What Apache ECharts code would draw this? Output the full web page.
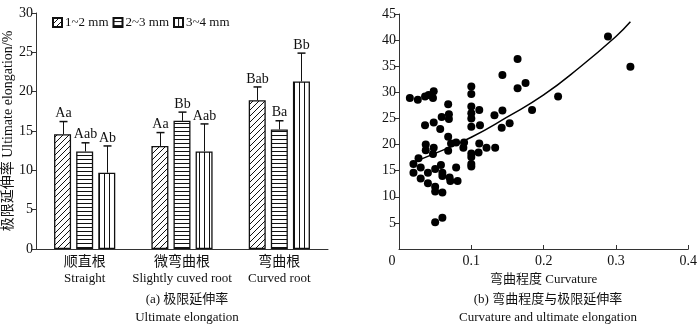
<!DOCTYPE html>
<html>
<head>
<meta charset="utf-8">
<script src="https://cdn.jsdelivr.net/npm/echarts@6/dist/echarts.min.js"></script>
<style>html,body{margin:0;padding:0;background:#fff}#main{width:700px;height:325px}</style>
</head>
<body>
<div id="main"></div>
<script>
// (a) bars
const categoriesCn = ['顺直根', '微弯曲根', '弯曲根'];
const categoriesEn = ['Straight', 'Slightly cuved root', 'Curved root'];
const sizeNames = ['1~2 mm', '2~3 mm', '3~4 mm'];
const mean12 = [14.6, 13.1, 18.9];
const mean23 = [12.4, 16.3, 15.2];
const mean34 = [9.7, 12.4, 21.3];
const sd12 = [1.6, 1.7, 1.7];
const sd23 = [1.1, 1.1, 1.1];
const sd34 = [3.4, 3.5, 3.6];
const letters12 = ['Aa', 'Aa', 'Bab'];
const letters23 = ['Aab', 'Bb', 'Ba'];
const letters34 = ['Ab', 'Aab', 'Bb'];

// (b) scatter
const curvature = [
    0.015, 0.02, 0.02, 0.026, 0.027, 0.03, 0.03, 0.036, 0.036, 0.037, 0.037, 0.04, 0.04,
    0.041, 0.048, 0.047, 0.048, 0.048, 0.047, 0.05, 0.05, 0.05, 0.05,
    0.059, 0.057, 0.058, 0.06, 0.06, 0.06, 0.06,
    0.068, 0.069, 0.069, 0.068, 0.072, 0.068, 0.07, 0.071,
    0.079, 0.079, 0.081, 0.09, 0.089,
    0.1, 0.1, 0.1, 0.1, 0.1, 0.1, 0.1, 0.1, 0.1, 0.1,
    0.111, 0.112, 0.111, 0.11, 0.121, 0.133, 0.132,
    0.143, 0.143, 0.142, 0.153, 0.164, 0.164, 0.175, 0.184,
    0.22, 0.289, 0.32
];
const elongation = [
    28.9, 16.3, 14.6, 28.6, 17.4, 15.6, 13.5, 29.2, 23.7, 20.0, 18.9, 14.6, 12.6,
    29.5, 30.2, 28.9, 24.2, 19.4, 18.2, 15.3, 11.9, 11.0, 5.1,
    25.3, 23.0, 16.1, 14.6, 14.0, 10.8, 6.0,
    27.7, 25.8, 24.9, 21.5, 20.2, 18.8, 13.7, 13.0,
    20.4, 15.6, 13.0, 20.4, 19.4,
    31.1, 29.7, 27.3, 26.0, 25.0, 23.4, 18.3, 17.6, 16.3, 15.8,
    26.6, 23.7, 20.2, 18.5, 19.4, 19.4, 25.6,
    26.5, 33.3, 23.2, 24.1, 36.4, 30.8, 31.8, 26.6,
    29.2, 40.7, 34.9
];
// trend curve
const curveX = [0.015, 0.05, 0.1, 0.15, 0.2, 0.25, 0.3, 0.32];
const curveY = [16.4, 18.3, 21.4, 25.3, 29.5, 34.8, 40.7, 43.5];

const font = '"Liberation Serif", "Noto Sans CJK SC", serif';
const ink = '#111';

function makePattern(kind) {
    const c = document.createElement('canvas');
    const s = kind === 'diag' ? 6 : (kind === 'hor' ? 4 : 5);
    c.width = s; c.height = s;
    const ctx = c.getContext('2d');
    ctx.fillStyle = '#fff';
    ctx.fillRect(0, 0, s, s);
    ctx.strokeStyle = ink;
    ctx.fillStyle = ink;
    ctx.lineWidth = 1;
    if (kind === 'diag') {
        ctx.beginPath();
        ctx.moveTo(-1, s + 1); ctx.lineTo(s + 1, -1);
        ctx.moveTo(-1, 1); ctx.lineTo(1, -1);
        ctx.moveTo(s - 1, s + 1); ctx.lineTo(s + 1, s - 1);
        ctx.stroke();
    } else if (kind === 'hor') {
        ctx.fillRect(0, s - 1, s, 1);
    } else {
        ctx.fillRect(s - 1, 0, 1, s);
    }
    return { image: c, repeat: 'repeat' };
}

const patterns = [makePattern('diag'), makePattern('hor'), makePattern('vert')];
const means = [mean12, mean23, mean34];
const sds = [sd12, sd23, sd34];
const letters = [letters12, letters23, letters34];
const offsets = [-22, 0, 22];

const series = [];
sizeNames.forEach((name, k) => {
    series.push({
        name: name,
        type: 'bar',
        xAxisIndex: 0,
        yAxisIndex: 0,
        barWidth: 17,
        barGap: '30%',
        data: means[k],
        itemStyle: { color: patterns[k], borderColor: ink, borderWidth: 1.3 }
    });
});
sizeNames.forEach((name, k) => {
    series.push({
        type: 'custom',
        xAxisIndex: 0,
        yAxisIndex: 0,
        z: 5,
        encode: { x: 0, y: 1 },
        data: means[k].map((v, i) => [i, v, sds[k][i]]),
        renderItem: function (params, api) {
            const cat = api.value(0);
            const base = api.coord([cat, api.value(1)]);
            const top = api.coord([cat, api.value(1) + api.value(2)]);
            const x = Math.round(base[0] + offsets[k]) + 0.5;
            return {
                type: 'group',
                children: [
                    { type: 'line', shape: { x1: x, y1: base[1], x2: x, y2: top[1] }, style: { stroke: ink, lineWidth: 1 } },
                    { type: 'line', shape: { x1: x - 4, y1: top[1], x2: x + 4, y2: top[1] }, style: { stroke: ink, lineWidth: 1.5 } },
                    { type: 'text', x: x, y: top[1] - 1, style: { text: letters[k][params.dataIndex], align: 'center', verticalAlign: 'bottom', font: '14px ' + font, fill: ink } }
                ]
            };
        }
    });
});
series.push({
    type: 'scatter',
    xAxisIndex: 1,
    yAxisIndex: 1,
    symbolSize: 8,
    itemStyle: { color: '#000', opacity: 1 },
    data: curvature.map((x, i) => [x, elongation[i]])
});
series.push({
    type: 'line',
    xAxisIndex: 1,
    yAxisIndex: 1,
    smooth: true,
    showSymbol: false,
    lineStyle: { color: '#000', width: 1.5 },
    data: curveX.map((x, i) => [x, curveY[i]])
});

const chart = echarts.init(document.getElementById('main'));
const axisLine = { show: true, lineStyle: { color: '#333', width: 1 } };

chart.setOption({
    animation: false,
    textStyle: { fontFamily: font, color: ink },
    title: [
        { text: '(a) 极限延伸率', left: 182, top: 288, textAlign: 'center', textStyle: { fontSize: 13, fontWeight: 'normal', fontFamily: font, color: ink } },
        { text: 'Ultimate elongation', left: 182, top: 306, textAlign: 'center', textStyle: { fontSize: 13, fontWeight: 'normal', fontFamily: font, color: ink } },
        { text: '(b) 弯曲程度与极限延伸率', left: 543, top: 288, textAlign: 'center', textStyle: { fontSize: 13, fontWeight: 'normal', fontFamily: font, color: ink } },
        { text: 'Curvature and ultimate elongation', left: 543, top: 306, textAlign: 'center', textStyle: { fontSize: 13, fontWeight: 'normal', fontFamily: font, color: ink } }
    ],
    legend: {
        data: sizeNames,
        left: 52,
        top: 16,
        padding: 0,
        icon: 'rect',
        itemWidth: 9,
        itemHeight: 9,
        itemGap: 4,
        textStyle: { fontSize: 13, fontFamily: font, color: ink, padding: [0, 0, 0, -2] }
    },
    grid: [
        { left: 36, right: 372, top: 13, bottom: 76 },
        { left: 399, right: 9, top: 14, bottom: 76 }
    ],
    xAxis: [
        {
            type: 'category',
            gridIndex: 0,
            data: categoriesCn.map((c, i) => c + '\n' + categoriesEn[i]),
            axisLine: axisLine,
            axisTick: { show: false },
            axisLabel: {
                margin: 5,
                interval: 0,
                formatter: function (v) {
                    const p = v.split('\n');
                    return '{cn|' + p[0] + '}\n{en|' + p[1] + '}';
                },
                rich: {
                    cn: { fontSize: 14, fontFamily: font, color: ink, lineHeight: 17 },
                    en: { fontSize: 13, fontFamily: font, color: ink, lineHeight: 16 }
                }
            }
        },
        {
            type: 'value',
            gridIndex: 1,
            min: 0,
            max: 0.4,
            interval: 0.1,
            name: '弯曲程度 Curvature',
            nameLocation: 'middle',
            nameGap: 21,
            nameTextStyle: { fontSize: 13, fontFamily: font, color: ink },
            axisLine: axisLine,
            axisTick: { show: true, inside: true, length: 4, lineStyle: { color: '#333' } },
            splitLine: { show: false },
            axisLabel: {
                margin: 5,
                fontSize: 14,
                color: ink,
                formatter: function (v) {
                    return v === 0 ? '{z|0}' : '' + v;
                },
                rich: { z: { fontSize: 14, fontFamily: font, color: ink, padding: [0, 14, 0, 0] } }
            }
        }
    ],
    yAxis: [
        {
            type: 'value',
            gridIndex: 0,
            min: 0,
            max: 30,
            interval: 5,
            name: '极限延伸率 Ultimate elongation/%',
            nameLocation: 'middle',
            nameGap: 19,
            nameRotate: 90,
            nameTextStyle: { fontSize: 14, fontFamily: font, color: ink },
            axisLine: axisLine,
            axisTick: { show: true, length: 4, lineStyle: { color: '#333' } },
            splitLine: { show: false },
            axisLabel: { margin: 3, fontSize: 14, color: ink }
        },
        {
            type: 'value',
            gridIndex: 1,
            min: 0,
            max: 45,
            interval: 5,
            axisLine: axisLine,
            axisTick: { show: true, length: 4, lineStyle: { color: '#333' } },
            splitLine: { show: false },
            axisLabel: { margin: 3, fontSize: 14, color: ink, showMinLabel: false }
        }
    ],
    series: series
});
</script>
</body>
</html>
